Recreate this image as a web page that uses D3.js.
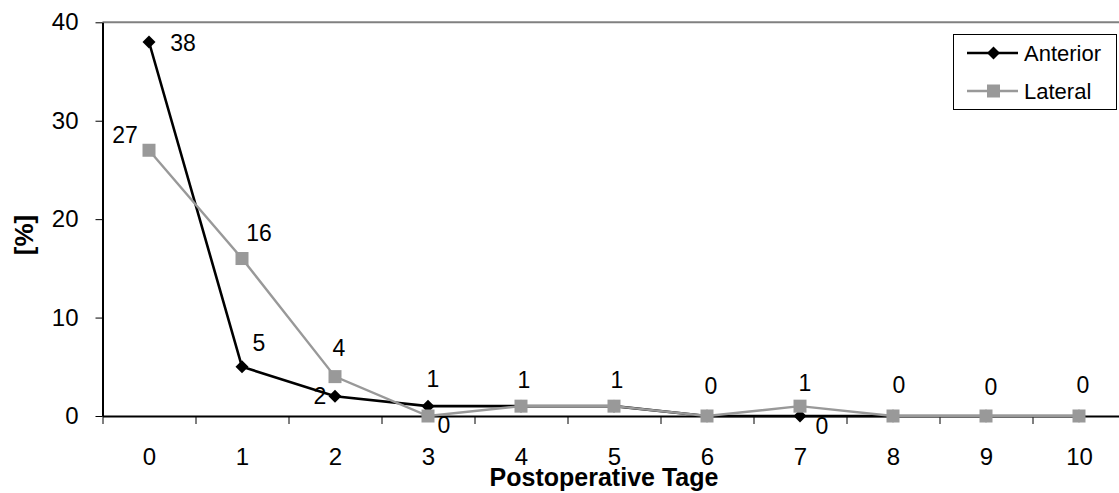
<!DOCTYPE html>
<html>
<head>
<meta charset="utf-8">
<script src="https://cdn.jsdelivr.net/npm/d3@7/dist/d3.min.js"></script>
<style>
  html, body { margin: 0; padding: 0; background: #fff; }
  svg { display: block; font-family: Arial, "Liberation Sans", sans-serif; }
</style>
</head>
<body>
<svg id="chart" width="1119" height="493"></svg>
<script>
// Postoperative days and share of patients per day [%]
const days = ["0", "1", "2", "3", "4", "5", "6", "7", "8", "9", "10"];
const anterior = [38, 5, 2, 1, 1, 1, 0, 0, 0, 0, 0];
const lateral = [27, 16, 4, 0, 1, 1, 0, 1, 0, 0, 0];
const yTicks = [0, 10, 20, 30, 40];
const seriesNames = ["Anterior", "Lateral"];
const xTitle = "Postoperative Tage";
const yTitle = "[%]";

// Label placement relative to each point (null = label not drawn)
const anteriorLabelOffsets = [[34, 1], [17, -24], [-15, -1], [5, -27], null, null, null, [22, 10], null, null, null];
const lateralLabelOffsets = [[-24, -16], [17, -26], [4, -29], [16, 9], [3, -26], [3, -26], [4, -30], [5, -23], [6, -31], [5, -29], [4, -31]];

const svg = d3.select("#chart");

const plot = { left: 102.5, right: 1125.5, top: 22.3, bottom: 416 };

const x = d3.scalePoint().domain(days).range([plot.left, plot.right]).padding(0.5);
const xEdges = d3.scaleLinear().domain([0, days.length]).range([plot.left, plot.right]);
const y = d3.scaleLinear().domain([0, 40]).range([plot.bottom, plot.top]);

// Plot area top border
svg.append("line")
  .attr("x1", plot.left).attr("x2", 1119)
  .attr("y1", plot.top).attr("y2", plot.top)
  .attr("stroke", "#808080").attr("stroke-width", 2);

// Y axis
const yAxis = svg.append("g")
  .attr("transform", `translate(${plot.left},0)`)
  .call(d3.axisLeft(y).tickValues(yTicks).tickSizeInner(7).tickSizeOuter(0).tickPadding(17));
yAxis.select(".domain").attr("stroke", "#000").attr("stroke-width", 2);
yAxis.selectAll(".tick line").attr("stroke", "#000").attr("stroke-width", 1);
yAxis.selectAll(".tick text").attr("font-size", 24).attr("fill", "#000")
  .attr("font-family", "Arial, 'Liberation Sans', sans-serif");

// X axis: tick marks between categories
const xTickAxis = svg.append("g")
  .attr("transform", `translate(0,${plot.bottom})`)
  .call(d3.axisBottom(xEdges).tickValues(d3.range(0, days.length + 1)).tickFormat("").tickSizeInner(8).tickSizeOuter(0));
xTickAxis.select(".domain").attr("stroke", "#000").attr("stroke-width", 2);
xTickAxis.selectAll(".tick line").attr("stroke", "#000").attr("stroke-width", 1);

// X axis: category labels
const xLabelAxis = svg.append("g")
  .attr("transform", `translate(0,${plot.bottom})`)
  .call(d3.axisBottom(x).tickSize(0).tickPadding(32));
xLabelAxis.select(".domain").remove();
xLabelAxis.selectAll(".tick text").attr("font-size", 24).attr("fill", "#000")
  .attr("font-family", "Arial, 'Liberation Sans', sans-serif");

// Axis titles
svg.append("text")
  .attr("x", 604).attr("y", 486)
  .attr("text-anchor", "middle")
  .attr("font-size", 25).attr("font-weight", "bold")
  .text(xTitle);

svg.append("text")
  .attr("transform", "translate(33,235) rotate(-90)")
  .attr("text-anchor", "middle")
  .attr("font-size", 26).attr("font-weight", "bold")
  .text(yTitle);

const line = d3.line().x((d, i) => x(days[i])).y(d => y(d));

// Square rotated by 45 degrees
const diamondPath = "M0,-6.5L6.5,0L0,6.5L-6.5,0Z";

function drawSeries(values, color, width, markerFn) {
  const g = svg.append("g");
  g.append("path")
    .datum(values)
    .attr("d", line)
    .attr("fill", "none")
    .attr("stroke", color)
    .attr("stroke-width", width)
    .attr("stroke-linejoin", "miter");
  markerFn(g, values);
  return g;
}

// Anterior series: black line with diamonds
drawSeries(anterior, "#000", 2.6, (g, vals) => {
  g.selectAll("path.marker")
    .data(vals)
    .join("path")
    .attr("class", "marker")
    .attr("d", diamondPath)
    .attr("transform", (d, i) => `translate(${x(days[i])},${y(d)})`)
    .attr("fill", "#000");
});

// Lateral series: grey line with squares
drawSeries(lateral, "#999999", 2.4, (g, vals) => {
  g.selectAll("rect.marker")
    .data(vals)
    .join("rect")
    .attr("class", "marker")
    .attr("x", (d, i) => x(days[i]) - 6.5)
    .attr("y", d => y(d) - 6.5)
    .attr("width", 13).attr("height", 13)
    .attr("fill", "#999999");
});

// Data labels
function drawLabels(values, offsets) {
  svg.append("g")
    .selectAll("text")
    .data(values.map((v, i) => ({ v, i, o: offsets[i] })).filter(d => d.o))
    .join("text")
    .attr("x", d => x(days[d.i]) + d.o[0])
    .attr("y", d => y(d.v) + d.o[1])
    .attr("dy", "0.36em")
    .attr("text-anchor", "middle")
    .attr("font-size", 23)
    .attr("fill", "#000")
    .text(d => d.v);
}
drawLabels(anterior, anteriorLabelOffsets);
drawLabels(lateral, lateralLabelOffsets);

// Legend
const legend = svg.append("g");
legend.append("rect")
  .attr("x", 953.5).attr("y", 34.5).attr("width", 163).attr("height", 75)
  .attr("fill", "#fff").attr("stroke", "#000").attr("stroke-width", 1);

const legendRows = [
  { name: seriesNames[0], color: "#000", width: 2.6, y: 53 },
  { name: seriesNames[1], color: "#999999", width: 2.4, y: 91 }
];
legendRows.forEach((r, k) => {
  legend.append("line")
    .attr("x1", 967).attr("x2", 1018)
    .attr("y1", r.y).attr("y2", r.y)
    .attr("stroke", r.color).attr("stroke-width", r.width);
  if (k === 0) {
    legend.append("path")
      .attr("d", diamondPath)
      .attr("transform", `translate(993.5,${r.y})`)
      .attr("fill", "#000");
  } else {
    legend.append("rect")
      .attr("x", 993.5 - 6.5).attr("y", r.y - 6.5)
      .attr("width", 13).attr("height", 13)
      .attr("fill", "#999999");
  }
  legend.append("text")
    .attr("x", 1024).attr("y", r.y)
    .attr("dy", "0.36em")
    .attr("font-size", 22)
    .attr("fill", "#000")
    .text(r.name);
});
</script>
</body>
</html>
